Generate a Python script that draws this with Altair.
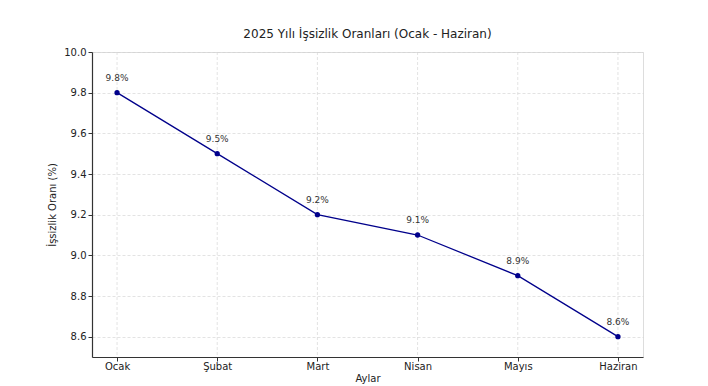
import altair as alt
import pandas as pd

months = ["Ocak", "Şubat", "Mart", "Nisan", "Mayıs", "Haziran"]
rates = [9.8, 9.5, 9.2, 9.1, 8.9, 8.6]
labels = ["9.8%", "9.5%", "9.2%", "9.1%", "8.9%", "8.6%"]
y_ticks = [8.6, 8.8, 9.0, 9.2, 9.4, 9.6, 9.8, 10.0]

df = pd.DataFrame({"Ay": months, "Oran": rates, "Etiket": labels})

FONT = "DejaVu Sans"
GRID = "#d0d0d0"

common = dict(labelFontSize=10, titleFontSize=10, titleFontWeight="normal",
              labelColor="#222", titleColor="#222", labelFont=FONT, titleFont=FONT,
              gridDash=[3, 2], gridColor=GRID, gridWidth=0.6,
              domainColor="#333", domainWidth=1.2, tickColor="#333", tickSize=4)

x = alt.X("Ay:N", sort=months, title="Aylar",
          scale=alt.Scale(type="point", padding=0.25),
          axis=alt.Axis(labelAngle=0, labelPadding=0, titlePadding=2, grid=False, **common))
y = alt.Y("Oran:Q", title="İşsizlik Oranı (%)",
          scale=alt.Scale(domain=[8.5, 10.0], nice=False, zero=False),
          axis=alt.Axis(values=y_ticks, format=".1f", labelPadding=2, titlePadding=6, grid=True, **common))

vgrid = alt.Chart(df).mark_rule(color=GRID, strokeWidth=0.6, strokeDash=[3, 2]).encode(x=x)

base = alt.Chart(df).encode(x=x, y=y)

line = base.mark_line(color="#00008B", strokeWidth=1.3)
points = base.mark_circle(color="#00008B", size=28, opacity=1)
text = base.mark_text(dy=-15, fontSize=9, color="#333", font=FONT).encode(text="Etiket:N")

chart = (vgrid + line + points + text).properties(
    width=551, height=305,
    title=alt.TitleParams("2025 Yılı İşsizlik Oranları (Ocak - Haziran)", fontSize=12,
                          font=FONT, fontWeight="normal", color="#222", offset=6),
    autosize=alt.AutoSizeParams(type="none"),
    padding={"left": 84, "top": 44, "right": 57, "bottom": 29},
).configure_view(stroke="transparent", strokeWidth=0).configure(background="white")

chart.save("out.html", embed_options={"renderer": "svg", "actions": False})
